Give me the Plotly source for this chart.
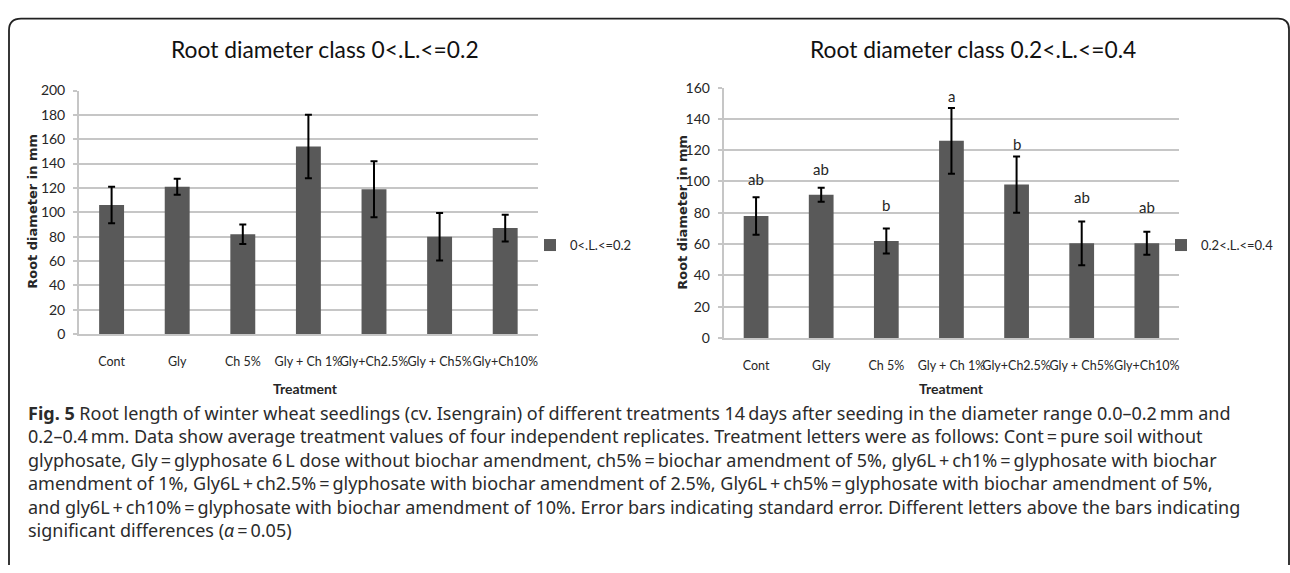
import plotly.graph_objects as go

W, H = 1290, 573

# ---------------- data ----------------
categories = ["Cont", "Gly", "Ch 5%", "Gly + Ch 1%", "Gly+Ch2.5%", "Gly + Ch5%", "Gly+Ch10%"]
left_values = [106, 121, 82, 154, 119, 80, 87]
left_errors = [15, 6.5, 8, 26, 23, 19.5, 11]
right_values = [78, 91.5, 62, 126, 98, 60.5, 60.5]
right_errors = [12, 4.5, 8, 21, 18, 14, 7.3]
right_letters = ["ab", "ab", "b", "a", "b", "ab", "ab"]
left_yticks = [0, 20, 40, 60, 80, 100, 120, 140, 160, 180, 200]
right_yticks = [0, 20, 40, 60, 80, 100, 120, 140, 160]
left_name = "0&lt;.L.&lt;=0.2"
right_name = "0.2&lt;.L.&lt;=0.4"

# ---------------- styles ----------------
NARROW = "Lato, Liberation Sans Narrow, sans-serif"
CAPFONT = "Noto Sans, Open Sans, sans-serif"
BAR = "#595959"
GRID = "#c6c6c6"
TXT = "#262626"
letter_yshift = [18, 19, 23, 12, 12, 24, 25]


def px(x):
    return x / W


def py(y):
    return 1 - y / H


fig = go.Figure()

fig.add_trace(go.Bar(
    x=categories, y=left_values, name=left_name,
    marker=dict(color=BAR, line=dict(width=0)),
    error_y=dict(type="data", array=left_errors, color="black", thickness=2, width=3.5),
    xaxis="x", yaxis="y", legend="legend",
))
fig.add_trace(go.Bar(
    x=categories, y=right_values, name=right_name,
    marker=dict(color=BAR, line=dict(width=0)),
    error_y=dict(type="data", array=right_errors, color="black", thickness=2, width=3.5),
    xaxis="x2", yaxis="y2", legend="legend2",
))

yax_common = dict(
    showgrid=True, gridcolor=GRID, gridwidth=1.5,
    showline=True, linecolor=GRID, linewidth=1.5,
    ticks="outside", ticklen=4, tickcolor=GRID, tickwidth=1.5,
    tickfont=dict(family=NARROW, size=14, color=TXT),
    zeroline=False, ticklabelstandoff=5,
)
xax_common = dict(
    type="category", showline=True, linecolor=GRID, linewidth=1.5,
    ticks="", tickangle=0, showgrid=False,
    tickfont=dict(family=NARROW, size=12.5, color=TXT),
    ticklabelstandoff=15,
)

annotations = []
# chart titles
annotations.append(dict(text="Root diameter class " + left_name, x=px(324.5), y=py(41.7),
                        xref="paper", yref="paper", showarrow=False, xanchor="center", yanchor="middle",
                        font=dict(family=NARROW, size=22.8, color="#111")))
annotations.append(dict(text="Root diameter class " + right_name, x=px(972.5), y=py(41.7),
                        xref="paper", yref="paper", showarrow=False, xanchor="center", yanchor="middle",
                        font=dict(family=NARROW, size=22.8, color="#111")))
# y-axis titles
for xx, yy in [(33, 209), (683, 210)]:
    annotations.append(dict(text="<b>Root diameter in mm</b>", x=px(xx), y=py(yy), textangle=-90,
                            xref="paper", yref="paper", showarrow=False, xanchor="center", yanchor="middle",
                            font=dict(family="DejaVu Sans", size=13, color=TXT)))
# x-axis titles
for xx in [305, 951.5]:
    annotations.append(dict(text="<b>Treatment</b>", x=px(xx), y=py(391),
                            xref="paper", yref="paper", showarrow=False, xanchor="center", yanchor="middle",
                            font=dict(family=NARROW, size=14, color=TXT)))
# significance letters
for cat, v, e, lab, sh in zip(categories, right_values, right_errors, right_letters, letter_yshift):
    annotations.append(dict(text=lab, x=cat, y=v + e, xref="x2", yref="y2", showarrow=False,
                            yanchor="middle", yshift=sh,
                            font=dict(family=NARROW, size=15, color=TXT)))

caption_lines = [
    "<b>Fig. 5</b> Root length of winter wheat seedlings (cv. Isengrain) of different treatments 14\u2009days after seeding in the diameter range 0.0–0.2\u2009mm and",
    "0.2–0.4\u2009mm. Data show average treatment values of four independent replicates. Treatment letters were as follows: Cont\u2009=\u2009pure soil without",
    "glyphosate, Gly\u2009=\u2009glyphosate 6\u2009L dose without biochar amendment, ch5%\u2009=\u2009biochar amendment of 5%, gly6L\u2009+\u2009ch1%\u2009=\u2009glyphosate with biochar",
    "amendment of 1%, Gly6L\u2009+\u2009ch2.5%\u2009=\u2009glyphosate with biochar amendment of 2.5%, Gly6L\u2009+\u2009ch5%\u2009=\u2009glyphosate with biochar amendment of 5%,",
    "and gly6L\u2009+\u2009ch10%\u2009=\u2009glyphosate with biochar amendment of 10%. Error bars indicating standard error. Different letters above the bars indicating",
    "significant differences (<i>α</i>\u2009=\u20090.05)",
]
annotations.append(dict(text="<br>".join(caption_lines), x=px(26), y=py(477), xref="paper", yref="paper",
                        showarrow=False, xanchor="left", yanchor="middle", align="left",
                        font=dict(family=CAPFONT, size=18, color="#2b2b2b")))

frame_path = (
    f"M {px(9)},{py(573)} L {px(9)},{py(22)} Q {px(9)},{py(10)} {px(21)},{py(10)} "
    f"L {px(1278)},{py(10)} Q {px(1289)},{py(10)} {px(1289)},{py(21)} L {px(1289)},{py(573)}"
)

fig.update_layout(
    width=W, height=H,
    margin=dict(l=0, r=0, t=0, b=0),
    paper_bgcolor="white", plot_bgcolor="white",
    bargap=0.62,
    xaxis=dict(domain=[px(78.8), px(538)], anchor="y", **xax_common),
    yaxis=dict(domain=[py(335), py(84)], range=[0, 200], tickvals=left_yticks, anchor="x", **yax_common),
    xaxis2=dict(domain=[px(723.5), px(1179.4)], anchor="y2", **xax_common),
    yaxis2=dict(domain=[py(339), py(81)], range=[0, 160], tickvals=right_yticks, anchor="x2", **yax_common),
    legend=dict(x=px(530), y=py(243.3), xanchor="left", yanchor="middle", bgcolor="rgba(0,0,0,0)",
                font=dict(family=NARROW, size=13, color=TXT)),
    legend2=dict(x=px(1161), y=py(243.3), xanchor="left", yanchor="middle", bgcolor="rgba(0,0,0,0)",
                 font=dict(family=NARROW, size=13, color=TXT)),
    annotations=annotations,
    shapes=[dict(type="path", path=frame_path, xref="paper", yref="paper",
                 line=dict(color="#222", width=1.8))],
    showlegend=True,
)

fig.write_html("out.html")
